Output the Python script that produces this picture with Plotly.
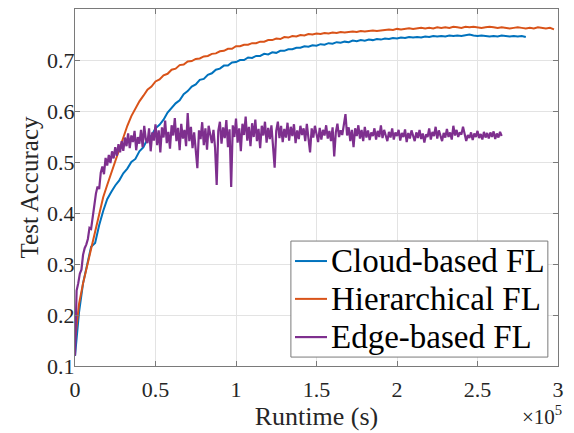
import plotly.graph_objects as go

# ---------------- data ----------------
series_names = ["Cloud-based FL", "Hierarchical FL", "Edge-based FL"]
series_colors = ["#0072BD", "#D95319", "#7E2F8E"]

cloud_round_time = 2500      # s between evaluations
hier_round_time = 2500
edge_round_time = 1000

cloud_acc = [
    0.120, 0.205, 0.262, 0.301, 0.334, 0.341, 0.376, 0.404, 0.427, 0.441,
    0.454, 0.464, 0.478, 0.487, 0.500, 0.506, 0.521, 0.529, 0.545, 0.552,
    0.566, 0.573, 0.583, 0.597, 0.607, 0.615, 0.621, 0.633, 0.639, 0.648,
    0.652, 0.661, 0.663, 0.671, 0.674, 0.681, 0.683, 0.689, 0.689, 0.695,
    0.696, 0.700, 0.700, 0.705, 0.704, 0.708, 0.708, 0.712, 0.711, 0.715,
    0.714, 0.718, 0.718, 0.721, 0.721, 0.724, 0.724, 0.727, 0.726, 0.729,
    0.728, 0.731, 0.730, 0.733, 0.732, 0.735, 0.734, 0.736, 0.735, 0.738,
    0.737, 0.739, 0.738, 0.740, 0.739, 0.741, 0.740, 0.742, 0.741, 0.743,
    0.742, 0.744, 0.743, 0.745, 0.744, 0.745, 0.744, 0.746, 0.745, 0.747,
    0.746, 0.747, 0.746, 0.748, 0.747, 0.748, 0.747, 0.749, 0.750, 0.748,
    0.747, 0.748, 0.747, 0.746, 0.747, 0.746, 0.748, 0.747, 0.746, 0.747,
    0.746, 0.747, 0.745,
]

hier_acc = [
    0.150, 0.222, 0.262, 0.296, 0.331, 0.368, 0.402, 0.431, 0.455, 0.479,
    0.500, 0.526, 0.548, 0.571, 0.590, 0.606, 0.619, 0.630, 0.642, 0.648,
    0.658, 0.662, 0.670, 0.673, 0.681, 0.683, 0.690, 0.691, 0.697, 0.698,
    0.702, 0.703, 0.707, 0.708, 0.712, 0.713, 0.717, 0.718, 0.722, 0.722,
    0.727, 0.727, 0.730, 0.730, 0.733, 0.733, 0.736, 0.736, 0.739, 0.739,
    0.742, 0.741, 0.745, 0.744, 0.747, 0.746, 0.749, 0.748, 0.751, 0.750,
    0.752, 0.751, 0.753, 0.752, 0.754, 0.753, 0.755, 0.754, 0.755, 0.756,
    0.755, 0.757, 0.756, 0.757, 0.758, 0.757, 0.758, 0.759, 0.760, 0.759,
    0.761, 0.760, 0.761, 0.762, 0.761, 0.762, 0.763, 0.762, 0.763, 0.762,
    0.764, 0.763, 0.764, 0.763, 0.765, 0.764, 0.763, 0.765, 0.764, 0.765,
    0.764, 0.763, 0.764, 0.765, 0.764, 0.763, 0.764, 0.763, 0.762, 0.763,
    0.764, 0.763, 0.762, 0.763, 0.762, 0.764, 0.763, 0.762, 0.763, 0.760,
]

edge_acc = [
    0.120, 0.248, 0.262, 0.281, 0.289, 0.318, 0.331, 0.338, 0.349, 0.371,
    0.369, 0.392, 0.421, 0.438, 0.452, 0.447, 0.479, 0.491, 0.476, 0.508,
    0.493, 0.514, 0.498, 0.521, 0.507, 0.529, 0.512, 0.535, 0.519, 0.541,
    0.522,
    0.548, 0.531, 0.556, 0.527, 0.552, 0.539, 0.561, 0.523, 0.549, 0.536,
    0.563, 0.529, 0.571, 0.544, 0.537, 0.566, 0.521, 0.558, 0.542, 0.574,
    0.533, 0.562, 0.519, 0.568, 0.548, 0.581, 0.537, 0.559, 0.526, 0.572,
    0.552, 0.586, 0.541, 0.567, 0.523, 0.575, 0.546, 0.563, 0.531, 0.596,
    0.541, 0.569, 0.527, 0.558, 0.516, 0.488, 0.562, 0.545, 0.578, 0.533,
    0.566, 0.524, 0.571, 0.549, 0.537, 0.563, 0.528, 0.455, 0.561, 0.579,
    0.536, 0.568, 0.547, 0.582, 0.529, 0.564, 0.451, 0.572, 0.549, 0.585,
    0.538, 0.566, 0.521, 0.575, 0.553, 0.589, 0.542, 0.569, 0.531, 0.576,
    0.549, 0.583, 0.541, 0.565, 0.527, 0.571, 0.552, 0.579, 0.538, 0.567,
    0.545, 0.572, 0.536, 0.489, 0.561, 0.579, 0.547, 0.571, 0.539, 0.565,
    0.548, 0.577, 0.542, 0.569, 0.551, 0.574, 0.537, 0.562, 0.545, 0.571,
    0.553, 0.566, 0.541, 0.575, 0.547, 0.519, 0.566, 0.548, 0.571, 0.553,
    0.539, 0.567, 0.544, 0.563, 0.552, 0.572, 0.546, 0.561, 0.541, 0.568,
    0.511, 0.558, 0.575, 0.549, 0.562, 0.553, 0.571, 0.594, 0.552, 0.568,
    0.541, 0.563, 0.529, 0.566, 0.551, 0.572, 0.546, 0.563, 0.541, 0.569,
    0.548, 0.562, 0.543, 0.558, 0.551, 0.566, 0.544, 0.561, 0.549, 0.572,
    0.547, 0.563, 0.552, 0.541, 0.559, 0.548, 0.566, 0.544, 0.558, 0.551,
    0.563, 0.542, 0.557, 0.549, 0.564, 0.539, 0.557, 0.546, 0.562, 0.552,
    0.541, 0.558, 0.547, 0.563, 0.545, 0.556, 0.538, 0.554, 0.549, 0.566,
    0.544, 0.559, 0.551, 0.569, 0.546, 0.562, 0.553, 0.541, 0.557, 0.548,
    0.565, 0.549, 0.558, 0.544, 0.571, 0.552, 0.563, 0.549, 0.558, 0.554,
    0.569, 0.557, 0.541, 0.553, 0.547, 0.558, 0.543, 0.556, 0.549, 0.561,
    0.547, 0.555, 0.544, 0.559, 0.548, 0.557, 0.546, 0.558, 0.549, 0.560,
    0.545, 0.556, 0.548, 0.559, 0.551,
]

x_tick_labels = ["0", "0.5", "1", "1.5", "2", "2.5", "3"]
x_tick_scale = 1e5
y_tick_values = [0.1, 0.2, 0.3, 0.4, 0.5, 0.6, 0.7, 0.8]

# ---------------- figure ----------------
FONT = "Liberation Serif"
AXIS_GRAY = "#7a7a7a"
TEXT = "#262626"

series = [
    (cloud_acc, cloud_round_time, 2.0),
    (hier_acc, hier_round_time, 2.0),
    (edge_acc, edge_round_time, 2.2),
]

fig = go.Figure()
for (acc, step, lw), name, color in zip(series, series_names, series_colors):
    xs = [i * step for i in range(len(acc))]
    fig.add_trace(go.Scatter(x=xs, y=acc, mode="lines", name=name,
                             line=dict(color=color, width=lw), showlegend=False))

axis_common = dict(
    showline=True, linecolor=AXIS_GRAY, linewidth=1, mirror="ticks",
    ticks="inside", ticklen=5, tickcolor=AXIS_GRAY,
    showgrid=True, gridcolor="#e3e3e3", gridwidth=1,
    zeroline=False,
    tickfont=dict(family=FONT, size=22, color=TEXT),
)

# ---- legend box (drawn as shapes + text, MATLAB style) ----
LEG_X0, LEG_X1, LEG_Y0, LEG_Y1 = 0.447, 0.979, 0.025, 0.350
LEG_ROWS_Y = [0.294, 0.188, 0.081]
LEG_LINE_X0, LEG_LINE_X1, LEG_TEXT_X = 0.4555, 0.5217, 0.526

shapes = [dict(type="rect", xref="paper", yref="paper",
               x0=LEG_X0, x1=LEG_X1, y0=LEG_Y0, y1=LEG_Y1,
               line=dict(color=AXIS_GRAY, width=1), fillcolor="white", layer="above")]
annotations = []
for name, color, ry, (_, _, lw) in zip(series_names, series_colors, LEG_ROWS_Y, series):
    shapes.append(dict(type="line", xref="paper", yref="paper",
                       x0=LEG_LINE_X0, x1=LEG_LINE_X1, y0=ry, y1=ry,
                       line=dict(color=color, width=lw), layer="above"))
    annotations.append(dict(text=name, xref="paper", yref="paper",
                            x=LEG_TEXT_X, y=ry, xanchor="left", yanchor="middle",
                            showarrow=False, font=dict(family=FONT, size=33, color="black")))

annotations.append(dict(
    text="×10<sup>5</sup>", xref="paper", yref="paper",
    x=1.012, y=-0.183, xanchor="right", yanchor="bottom", showarrow=False,
    font=dict(family=FONT, size=21, color=TEXT),
))

fig.update_layout(
    width=574, height=433,
    margin=dict(l=75, r=16, t=9, b=67),
    paper_bgcolor="white", plot_bgcolor="white",
    font=dict(family=FONT, color=TEXT, size=22),
    xaxis=dict(
        range=[0, 3e5],
        tickvals=[float(t) * x_tick_scale for t in x_tick_labels],
        ticktext=x_tick_labels,
        ticklabelstandoff=4,
        title=dict(text="Runtime (s)", font=dict(family=FONT, size=26, color=TEXT), standoff=3),
        **axis_common,
    ),
    yaxis=dict(
        range=[0.1, 0.8],
        tickvals=y_tick_values,
        tickformat=".1f",
        ticklabelstandoff=-5,
        title=dict(text="Test Accuracy", font=dict(family=FONT, size=25, color=TEXT), standoff=1),
        **axis_common,
    ),
    showlegend=False,
    shapes=shapes,
    annotations=annotations,
)

fig.write_html("out.html", config={"displayModeBar": False},
               post_script="document.body.style.margin='0';document.body.style.overflow='hidden';")
